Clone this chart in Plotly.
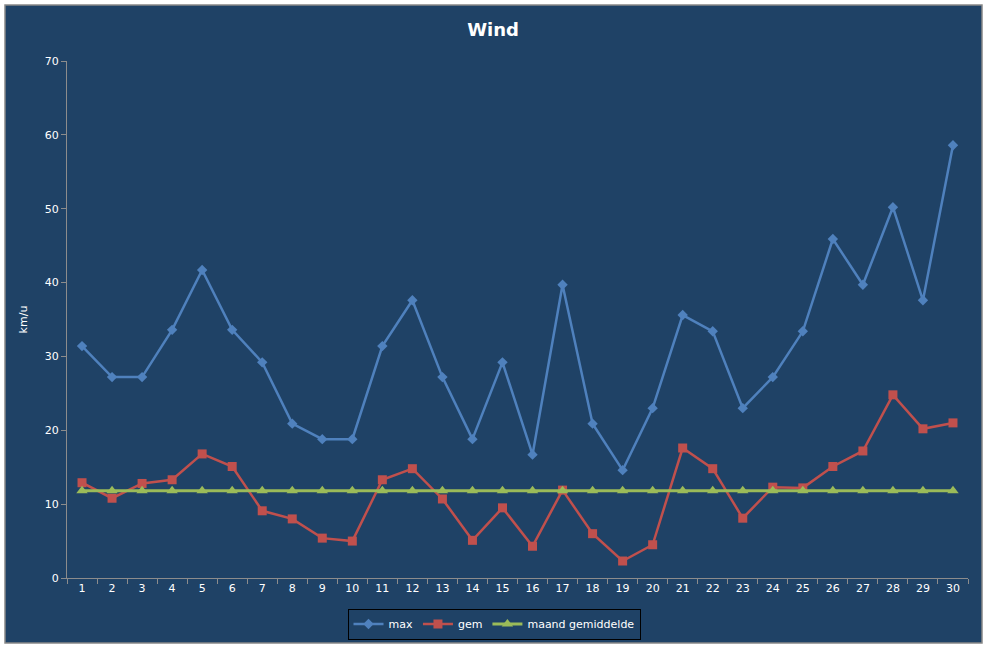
import plotly.graph_objects as go

days = [str(i) for i in range(1, 31)]
max_wind = [31.4, 27.2, 27.2, 33.6, 41.7, 33.6, 29.2, 20.9, 18.8, 18.8,
            31.4, 37.6, 27.2, 18.8, 29.2, 16.7, 39.7, 20.9, 14.6, 23.0,
            35.6, 33.4, 23.0, 27.2, 33.4, 45.9, 39.7, 50.2, 37.6, 58.6]
gem_wind = [12.9, 10.8, 12.8, 13.3, 16.8, 15.1, 9.1, 8.0, 5.4, 5.0,
            13.3, 14.8, 10.7, 5.1, 9.5, 4.3, 11.9, 6.0, 2.3, 4.5,
            17.6, 14.8, 8.1, 12.3, 12.2, 15.1, 17.2, 24.8, 20.2, 21.0]
maand_gem = [11.8] * 30
y_ticks = [0, 10, 20, 30, 40, 50, 60, 70]

W, H = 987, 648
L, R, T, B = 67, 19, 61, 70
pw, ph = W - L - R, H - T - B

def px_x(p):
    return (p - L) / pw

def px_y(p):
    return (H - B - p) / ph

bg = "#1F4266"
font = dict(family="DejaVu Sans", color="white", size=11)

fig = go.Figure()
fig.add_trace(go.Scatter(x=days, y=max_wind, name="max", mode="lines+markers",
                         line=dict(color="#4F81BD", width=2.5),
                         marker=dict(symbol="diamond", size=8, color="#4F81BD")))
fig.add_trace(go.Scatter(x=days, y=gem_wind, name="gem", mode="lines+markers",
                         line=dict(color="#C0504D", width=2.5),
                         marker=dict(symbol="square", size=9, color="#C0504D")))
fig.add_trace(go.Scatter(x=days, y=maand_gem, name="maand gemiddelde", mode="lines+markers",
                         line=dict(color="#9BBB59", width=3),
                         marker=dict(symbol="triangle-up", size=10, color="#9BBB59")))

fig.add_shape(type="rect", xref="paper", yref="paper", layer="below",
              x0=px_x(5), x1=px_x(982), y0=px_y(643), y1=px_y(5),
              fillcolor=bg, line=dict(color="#888888", width=1.5))

fig.update_layout(
    width=W, height=H,
    margin=dict(l=L, r=R, t=T, b=B, autoexpand=False),
    paper_bgcolor="white",
    plot_bgcolor=bg,
    font=font,
    title=dict(text="<b>Wind</b>", x=px_x(493), xref="paper", xanchor="center",
               y=1 - 30 / H, yanchor="middle", font=dict(size=18, color="white", family="DejaVu Sans")),
    showlegend=True,
    legend=dict(orientation="h", x=px_x(494), xanchor="center", y=px_y(624), yanchor="middle",
                bgcolor=bg, bordercolor="black", borderwidth=1, font=dict(size=11, color="white"),
                itemwidth=30, tracegroupgap=0),
    xaxis=dict(type="category", tickson="boundaries", ticks="outside", ticklen=5,
               tickcolor="#8C8C8C", showline=True, linecolor="#8C8C8C", linewidth=1,
               showgrid=False, zeroline=False, range=[-0.5, 29.5],
               tickfont=dict(size=11, color="white")),
    yaxis=dict(range=[0, 70], tickvals=y_ticks, ticks="outside", ticklen=5,
               tickcolor="#8C8C8C", showline=True, linecolor="#8C8C8C", linewidth=1,
               showgrid=False, zeroline=False,
               title=dict(text="km/u", font=dict(size=11, color="white"), standoff=14),
               tickfont=dict(size=11, color="white")),
)

fig.write_html("out.html", config={"displayModeBar": False},
               post_script="document.body.style.margin='0px';document.body.style.overflow='hidden';")
